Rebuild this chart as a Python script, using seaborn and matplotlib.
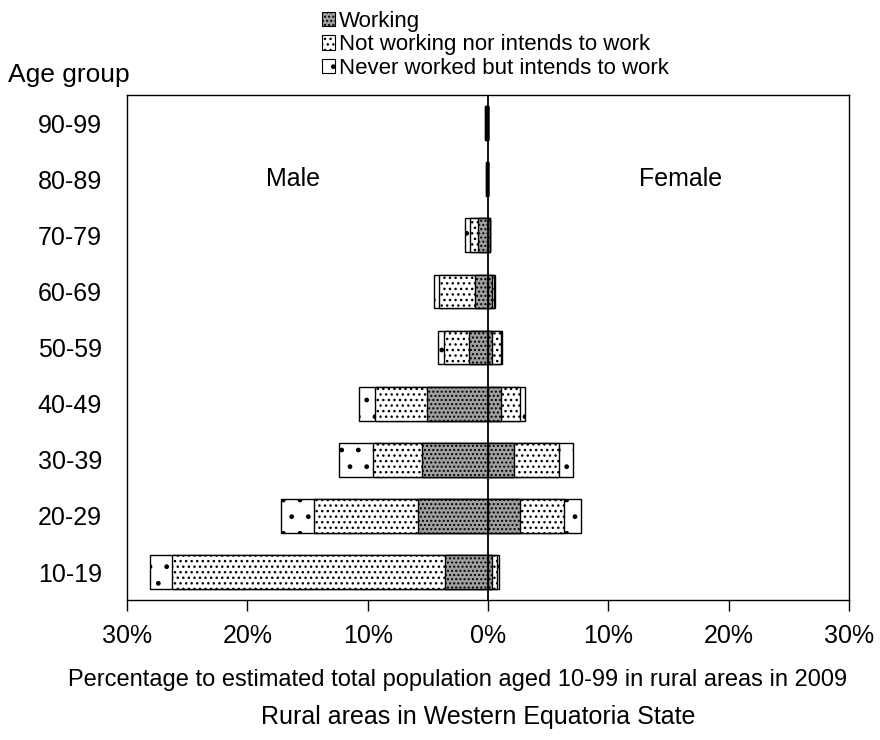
import numpy as np
import pandas as pd
import seaborn as sns
import matplotlib.pyplot as plt
import matplotlib.ticker as mtick
from matplotlib.patches import Patch

ages = ["90-99", "80-89", "70-79", "60-69", "50-59",
        "40-49", "30-39", "20-29", "10-19"]
male_working = [0.15, 0.12, 0.83, 1.1, 1.6, 5.05, 5.45, 5.8, 3.6]
male_not_working = [0.06, 0.03, 0.65, 3.0, 2.05, 4.3, 4.1, 8.7, 22.7]
male_never = [0.04, 0.02, 0.4, 0.35, 0.5, 1.4, 2.8, 2.7, 1.8]
female_working = [0.02, 0.02, 0.15, 0.3, 0.3, 1.1, 2.2, 2.65, 0.35]
female_not_working = [0.0, 0.0, 0.03, 0.2, 0.78, 1.6, 3.7, 3.7, 0.37]
female_never = [0.0, 0.0, 0.02, 0.05, 0.07, 0.4, 1.2, 1.4, 0.22]

categories = ["Working", "Not working nor intends to work",
              "Never worked but intends to work"]
styles = {
    "Working": dict(color="#a0a0a0", hatch="...."),
    "Not working nor intends to work": dict(color="white", hatch="..."),
    "Never worked but intends to work": dict(color="white", hatch="."),
}

sns.set_style("white")
plt.rcParams["font.family"] = ["Liberation Sans", "DejaVu Sans"]
plt.rcParams["hatch.linewidth"] = 1.0
plt.rcParams["text.color"] = "black"
plt.rcParams["axes.labelcolor"] = "black"
plt.rcParams["xtick.color"] = "black"
plt.rcParams["ytick.color"] = "black"

df = pd.DataFrame({
    "age": ages,
    "m1": -np.array(male_working),
    "m2": -(np.array(male_working) + np.array(male_not_working)),
    "m3": -(np.array(male_working) + np.array(male_not_working)
            + np.array(male_never)),
    "f1": np.array(female_working),
    "f2": np.array(female_working) + np.array(female_not_working),
    "f3": np.array(female_working) + np.array(female_not_working)
          + np.array(female_never),
})

fig = plt.figure(figsize=(8.8, 7.4), dpi=100)
ax = fig.add_axes([0.1443, 0.189, 0.8205, 0.6826])

# outermost (cumulative) layers first, inner layers on top
layer_cols = [("m3", "f3", categories[2]),
              ("m2", "f2", categories[1]),
              ("m1", "f1", categories[0])]
for mcol, fcol, cat in layer_cols:
    st = styles[cat]
    for col in (mcol, fcol):
        sns.barplot(data=df, x=col, y="age", order=ages, orient="h",
                    color=st["color"], hatch=st["hatch"], saturation=1,
                    edgecolor="black", linewidth=1.0, width=0.6,
                    errorbar=None, ax=ax)

ax.axvline(0, color="black", lw=1.3, zorder=5)
ax.set_xlim(-30, 30)
ax.set_ylim(8.5, -0.5)
ax.xaxis.set_major_locator(mtick.MultipleLocator(10))
ax.xaxis.set_major_formatter(mtick.FuncFormatter(lambda v, p: f"{abs(v):.0f}%"))
ax.tick_params(axis="x", direction="out", length=8, width=1, color="black",
               labelsize=18, pad=9, bottom=True)
ax.tick_params(axis="y", length=0, labelsize=18, pad=18)
for s in ax.spines.values():
    s.set_visible(True)
    s.set_color("black")
    s.set_linewidth(1.0)
ax.set_ylabel("")
ax.set_xlabel("")

ax.text(-16.2, 1, "Male", fontsize=18, ha="center", va="center")
ax.text(16.0, 1, "Female", fontsize=18, ha="center", va="center")

fig.text(0.009, 1 - 75 / 740, "Age group", fontsize=19, va="center", ha="left")
fig.text(458 / 880, 1 - 680 / 740,
         "Percentage to estimated total population aged 10-99 in rural areas in 2009",
         fontsize=17, ha="center", va="center")
fig.text(478 / 880, 1 - 717 / 740, "Rural areas in Western Equatoria State",
         fontsize=18, ha="center", va="center")

handles = [Patch(facecolor=styles[c]["color"], hatch=styles[c]["hatch"],
                 edgecolor="black", linewidth=0.8) for c in categories]
fig.legend(handles, categories, loc="upper left",
           bbox_to_anchor=(311 / 880, 1 - 0 / 740), frameon=False,
           fontsize=16, handlelength=0.6, handleheight=0.6,
           handletextpad=0.15, labelspacing=0.1, borderpad=0)

fig.savefig("out.png", dpi=100)
